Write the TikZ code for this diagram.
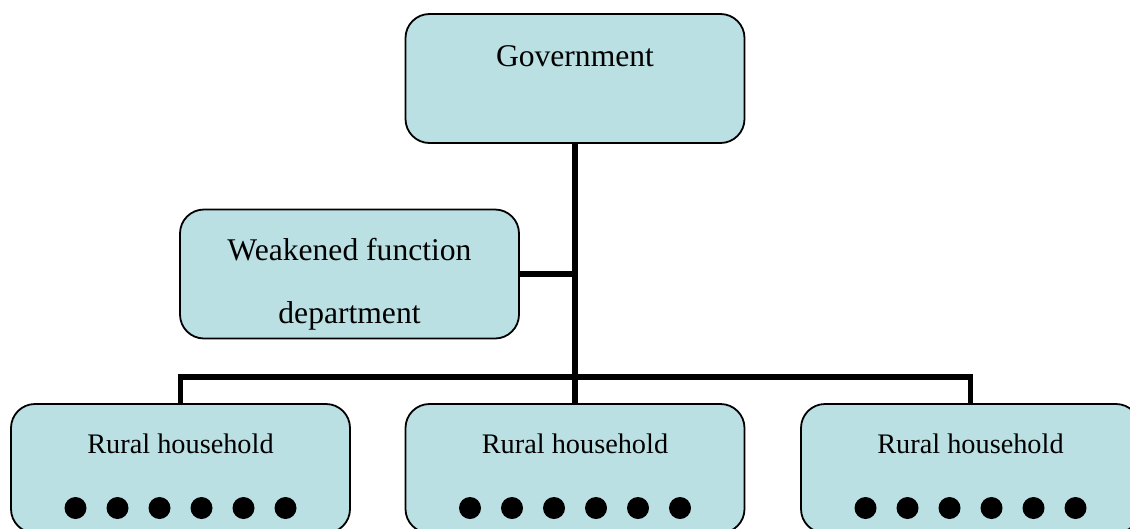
\documentclass[tikz,border=0pt]{standalone}
\usepackage{fontspec}
\setmainfont{Liberation Serif}
\definecolor{boxfill}{HTML}{BAE0E3}
\tikzset{
  box/.style={draw=black, line width=1.8pt, fill=boxfill, rounded corners=24pt,
    minimum width=339pt, minimum height=129pt, inner sep=0pt},
  conn/.style={draw=black, line width=5.5pt, line join=miter},
  bigtxt/.style={font=\fontsize{31.6}{36}\selectfont, inner sep=0pt},
  midtxt/.style={font=\fontsize{31.6}{36}\selectfont, inner sep=0pt},
  smalltxt/.style={font=\fontsize{28.3}{32}\selectfont, inner sep=0pt},
  dot/.style={circle, fill=black, minimum size=22pt, inner sep=0pt}
}
\begin{document}
\begin{tikzpicture}[x=1pt,y=-1pt]
\useasboundingbox (0,0) rectangle (1130,528);
\clip (0,0) rectangle (1130,528);
% boxes
\node[box] (gov) at (575,78.5) {};
\node[box] (wf) at (349.5,274) {};
\node[box] (rl) at (180.5,468.5) {};
\node[box] (rm) at (575,468.5) {};
\node[box] (rr) at (970.5,468.5) {};
% texts
\node[bigtxt, anchor=base] (govt) at (575,66) {Government};
\node[midtxt, anchor=base] (wft1) at (349.5,260) {Weakened function};
\node[midtxt, anchor=base] (wft2) at (349.5,323) {department};
\node[smalltxt, anchor=base] (rlt) at (180.5,453) {Rural household};
\node[smalltxt, anchor=base] (rmt) at (575,453) {Rural household};
\node[smalltxt, anchor=base] (rrt) at (970.5,453) {Rural household};
% dots
\foreach \b/\cx in {l/180.5, m/575, r/970.5}{
  \foreach \i in {0,...,5}{
    \node[dot] (d\b\i) at ({\cx-105+42*\i},508) {};
  }
}
% connectors
\coordinate (busL) at (180.5,377);
\coordinate (busR) at (970.5,377);
\draw[conn] (gov.south) -- (rm.north);
\draw[conn] (wf.east) -- (wf.east -| gov.south);
\draw[conn] (rl.north) -- (busL) -- (busR) -- (rr.north);
\end{tikzpicture}
\end{document}
